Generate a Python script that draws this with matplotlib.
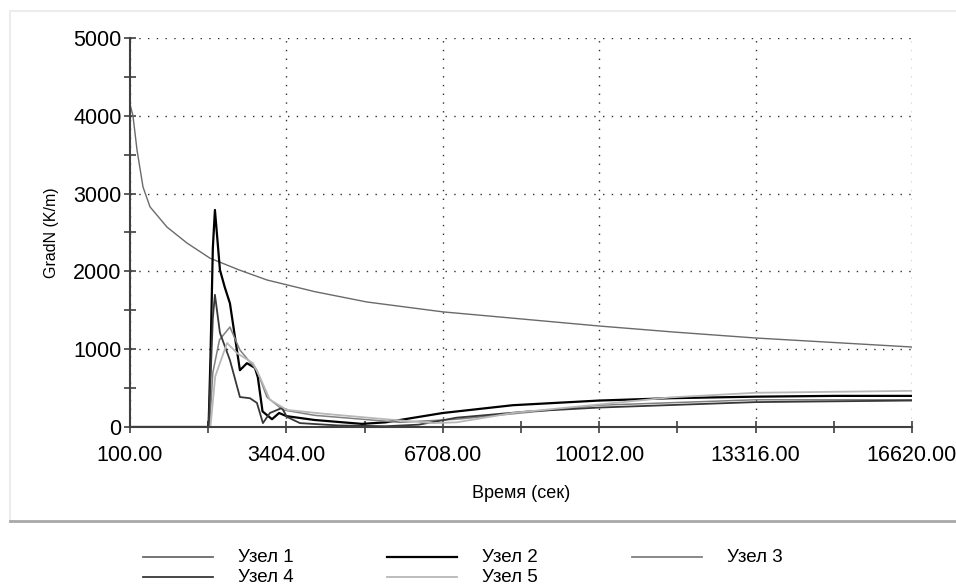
import numpy as np
import matplotlib
matplotlib.use("Agg")
from matplotlib import pyplot as plt
from matplotlib.lines import Line2D
from matplotlib.ticker import MultipleLocator, FixedLocator, FormatStrFormatter

plt.rcParams['font.family'] = ['Liberation Sans', 'DejaVu Sans']

# node 1 - the slowly decaying gradient
t1 = [100, 163, 248, 375, 522, 881, 1303, 1789, 2400, 2992, 4000, 5103, 6708, 7911,
      10012, 11600, 13316, 15000, 16620]
g1 = [4150, 4000, 3560, 3085, 2830, 2570, 2365, 2170, 2020, 1890, 1740, 1607, 1480, 1414,
      1298, 1220, 1144, 1085, 1028]

# node 2 - the sharp peak
t2 = [100, 1760, 1800, 1850, 1894, 2000, 2100, 2211, 2422, 2570, 2740, 2800, 2900, 3100,
      3250, 3404, 4000, 5000, 5500, 6708, 8185, 10012, 11500, 13316, 15000, 16620]
g2 = [0, 0, 900, 2300, 2790, 2020, 1800, 1590, 730, 820, 760, 640, 200, 100,
      180, 140, 90, 40, 60, 180, 280, 340, 370, 390, 400, 400]

# node 3
t3 = [100, 1780, 1850, 1990, 2211, 2422, 2633, 2781, 2992, 3330, 4000, 5000, 5800, 7000,
      8700, 10012, 13316, 16620]
g3 = [0, 0, 700, 1120, 1285, 990, 835, 730, 385, 220, 150, 100, 60, 100,
      200, 280, 350, 350]

# node 4
t4 = [100, 1760, 1800, 1850, 1894, 2000, 2211, 2422, 2633, 2781, 2908, 3055, 3310, 3415,
      3690, 4500, 5500, 6200, 7000, 8500, 10012, 13316, 16620]
g4 = [0, 0, 600, 1400, 1700, 1210, 860, 385, 370, 310, 50, 180, 245, 130,
      50, 20, 10, 30, 120, 200, 250, 320, 340]

# node 5
t5 = [100, 1800, 1900, 2150, 2360, 2700, 2845, 3055, 3415, 4200, 5500, 6500, 7000, 8185,
      10012, 11500, 13316, 16620]
g5 = [0, 0, 650, 1080, 950, 820, 640, 350, 220, 170, 100, 50, 60, 180,
      290, 380, 440, 465]

labels = ['Узел 1', 'Узел 2', 'Узел 3', 'Узел 4', 'Узел 5']
colors = ['#6a6a6a', '#000000', '#808080', '#383838', '#b8b8b8']
widths = [1.0, 1.6, 1.1, 1.3, 1.3]
xticks = [100, 3404, 6708, 10012, 13316, 16620]

W, H = 956, 585
fig = plt.figure(figsize=(W / 100, H / 100), dpi=100)
fig.patch.set_facecolor('white')


def fx(px):
    return px / W


def fy(py):
    return 1 - py / H


# light panel frame and the separator above the legend
fig.add_artist(Line2D([fx(10), 1], [fy(11)] * 2, transform=fig.transFigure, color='#ececec', lw=1.5))
fig.add_artist(Line2D([fx(10)] * 2, [fy(11), fy(521)], transform=fig.transFigure, color='#ececec', lw=1.5))
fig.add_artist(Line2D([fx(10), 1], [fy(521)] * 2, transform=fig.transFigure, color='#a8a8a8', lw=2))

ax = fig.add_axes([fx(130), fy(427), 782 / W, 389 / H])

series = [(t1, g1), (t2, g2), (t3, g3), (t4, g4), (t5, g5)]
for (t, g), c, w in zip(series, colors, widths):
    ax.plot(t, g, color=c, lw=w)

ax.set_xlim(100, 16620)
ax.set_ylim(0, 5000)
ax.xaxis.set_major_locator(FixedLocator(xticks))
ax.xaxis.set_minor_locator(FixedLocator([(a + b) / 2 for a, b in zip(xticks[:-1], xticks[1:])]))
ax.xaxis.set_major_formatter(FormatStrFormatter('%.2f'))
ax.yaxis.set_major_locator(MultipleLocator(1000))
ax.yaxis.set_minor_locator(MultipleLocator(500))

ax.grid(True, which='major', color='#303030', linestyle=(0, (1, 5.3)), lw=1)
for s in ['top', 'right']:
    ax.spines[s].set_visible(False)
for s in ['left', 'bottom']:
    ax.spines[s].set_color('#404040')
    ax.spines[s].set_linewidth(1.5)
ax.tick_params(which='both', direction='inout', length=8, width=1.2, color='#404040',
               labelsize=15.5, pad=2)
ax.tick_params(axis='x', pad=9)

ax.set_ylabel('GradN (K/m)', fontsize=11.5, labelpad=10)
ax.set_xlabel('Время (сек)', fontsize=13, labelpad=14)

# legend in two rows, three columns, as in the source
col_x = [143, 387, 632]
row_y = [557, 577]
for i, (lab, c, w) in enumerate(zip(labels, colors, widths)):
    r, k = divmod(i, 3)
    fig.add_artist(Line2D([fx(col_x[k]), fx(col_x[k] + 70)], [fy(row_y[r])] * 2,
                          transform=fig.transFigure, color=c, lw=max(w, 1.3)))
    fig.text(fx(col_x[k] + 95), fy(row_y[r]), lab, fontsize=13.5, ha='left', va='center')

fig.savefig('out.png', dpi=100)
